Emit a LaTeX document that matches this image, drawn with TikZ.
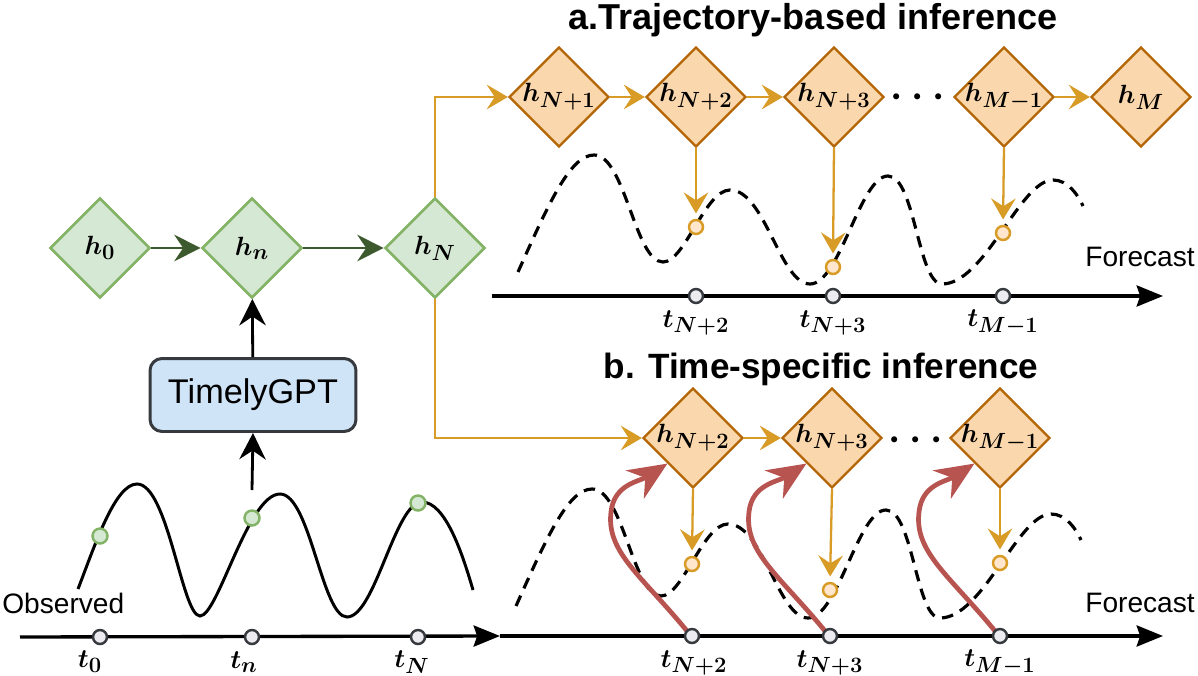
\RequirePackage{fix-cm}
\documentclass[tikz,border=0pt]{standalone}
\usepackage{amsmath}
\usepackage{fontspec}
\setmainfont{Liberation Sans}
\usetikzlibrary{shapes.geometric,arrows.meta,calc}
\DeclareMathSizes{15}{15}{12.5}{10}
\definecolor{gfill}{HTML}{D5E8D4}
\definecolor{gline}{HTML}{82B366}
\definecolor{garrow}{HTML}{3D5A2E}
\definecolor{ofill}{HTML}{FAD7AC}
\definecolor{oline}{HTML}{B46504}
\definecolor{oarrow}{HTML}{D79B26}
\definecolor{odotfill}{HTML}{FFE6CC}
\definecolor{rarrow}{HTML}{B85450}
\definecolor{bfill}{HTML}{CFE4F7}
\definecolor{darkline}{HTML}{36393D}
\definecolor{tdotfill}{HTML}{ECECF0}
\newcommand{\hlab}[1]{\makebox[0pt]{$\boldsymbol{h}_{\boldsymbol{#1}}$}}
\newcommand{\tlab}[1]{$\boldsymbol{t}_{\boldsymbol{#1}}$}
\newcommand{\threedots}{$\mathord{\boldsymbol{\cdot}}\mkern4mu\mathord{\boldsymbol{\cdot}}\mkern4mu\mathord{\boldsymbol{\cdot}}$}
\tikzset{
  gdia/.style={diamond, draw=gline, fill=gfill, line width=1.5pt, minimum width=2cm, minimum height=2cm, inner sep=0pt, font=\fontsize{15}{18}\selectfont},
  odia/.style={diamond, draw=oline, fill=ofill, line width=1.3pt, minimum width=2cm, minimum height=2cm, inner sep=0pt, font=\fontsize{15}{18}\selectfont},
  garr/.style={draw=garrow, line width=1.6pt, -{Stealth[length=15pt,width=15pt,inset=5pt]}},
  oarr/.style={draw=oarrow, line width=1.3pt, -{Stealth[length=12pt,width=14pt,inset=4.5pt]}},
  barr/.style={draw=black, line width=1.6pt, -{Stealth[length=15pt,width=15pt,inset=5pt]}},
  rarr/.style={draw=rarrow, line width=2.7pt, -{Stealth[length=22pt,width=19pt,inset=7pt]}},
  axisline/.style={draw=black, line width=1.9pt, -{Stealth[length=15pt,width=12pt,inset=2pt]}},
  tdot/.style={circle, draw=darkline, fill=tdotfill, line width=1.4pt, minimum size=0.28cm, inner sep=0pt},
  odot/.style={circle, draw=oarrow, fill=odotfill, line width=1.4pt, minimum size=0.28cm, inner sep=0pt},
  gdot/.style={circle, draw=gline, fill=gfill, line width=1.4pt, minimum size=0.3cm, inner sep=0pt},
  gptbox/.style={draw=darkline, fill=bfill, line width=1.7pt, rounded corners=0.24cm, minimum width=4.12cm, minimum height=1.46cm, font=\fontsize{19.5}{22}\selectfont},
  mathlab/.style={inner sep=0pt, font=\fontsize{15}{18}\selectfont},
  plainlab/.style={inner sep=0pt, font=\fontsize{16}{19}\selectfont},
  titlelab/.style={inner sep=0pt, font=\fontsize{20}{23}\selectfont\bfseries},
  dotslab/.style={inner sep=0pt, font=\fontsize{22}{24}\selectfont},
  dashcurve/.style={draw=black, line width=1.8pt, dash pattern=on 6.5pt off 4.5pt},
  solidcurve/.style={draw=black, line width=1.7pt}
}
\begin{document}
\begin{tikzpicture}[x=0.02cm,y=-0.02cm]
\useasboundingbox (0,0) rectangle (1198,676);

% ---------- titles ----------
\node[titlelab, anchor=base, font=\fontsize{20.5}{23}\selectfont\bfseries] (titA) at (813,30) {a.Trajectory-based inference};
\node[titlelab, anchor=base] (titB) at (821,378) {b. Time-specific inference};

% ---------- observed curve ----------
\draw[solidcurve] (78,589) .. controls (95,545) and (115,484) .. (137,484)
  .. controls (168,484) and (182,616) .. (200,616)
  .. controls (218,616) and (248,494) .. (280,494)
  .. controls (310,494) and (322,617) .. (347,617)
  .. controls (375,617) and (395,502) .. (422,502)
  .. controls (445,502) and (462,552) .. (473,590);

% ---------- forecast dashed curves ----------
\foreach \dx/\dy in {0/0, -2/334}{
\begin{scope}[shift={(\dx,\dy)}]
\draw[dashcurve] (518,272) .. controls (548,205) and (570,155) .. (594,155)
  .. controls (625,155) and (635,262) .. (663,262)
  .. controls (685,262) and (705,190) .. (730,190)
  .. controls (765,190) and (780,284) .. (810,284)
  .. controls (840,284) and (860,176) .. (888,176)
  .. controls (915,176) and (918,284) .. (942,284)
  .. controls (985,284) and (1020,180) .. (1053,180)
  .. controls (1068,180) and (1078,195) .. (1083,206);
\end{scope}
}

% ---------- axes ----------
\coordinate (ax0) at (20,637);
\coordinate (ax1) at (500,636);
\coordinate (ax2) at (1163,636);
\coordinate (ax3) at (492,296);
\coordinate (ax4) at (1163,296);
\draw[axisline] (ax0) -- (ax1);
\draw[axisline] (ax1) -- (ax2);
\draw[axisline] (ax3) -- (ax4);

% ---------- left part ----------
\node[gdia] (h0) at (100,248) {\hlab{0}};
\node[gdia] (hn) at (252,248) {\hlab{n}};
\node[gdia] (hN) at (435,248) {\hlab{N}};
\draw[garr] (h0) -- (hn);
\draw[garr] (hn) -- (hN);

\node[gptbox] (gpt) at (253,395) {TimelyGPT};
\coordinate (obs) at (252,490);
\draw[barr] (gpt) -- (hn);
\draw[barr] (obs) -- (gpt.south);

\node[gdot] (g1) at (100,536) {};
\node[gdot] (g2) at (252,518) {};
\node[gdot] (g3) at (418,503) {};

\node[plainlab, anchor=base west] (obsl) at (2,613) {Observed};

\node[tdot] (t0) at (100,637) {};
\node[tdot] (tn) at (252,637) {};
\node[tdot] (tN) at (418,637) {};
\node[mathlab] (lt0) at (90,662) {\tlab{0}};
\node[mathlab] (ltn) at (244,662) {\tlab{n}};
\node[mathlab] (ltN) at (412,662) {\tlab{N}};

% ---------- panel a ----------
\node[odia] (ha1) at (559,97) {\hlab{N+1}};
\node[odia] (ha2) at (696,97) {\hlab{N+2}};
\node[odia] (ha3) at (834,97) {\hlab{N+3}};
\node[odia] (ha4) at (1004,97) {\hlab{M-1}};
\node[odia] (ha5) at (1141,97) {\hlab{M}};
\node[dotslab] (dda) at (918,97) {\threedots};
\draw[oarr] (hN.north) |- (ha1.west);
\draw[oarr] (ha1) -- (ha2);
\draw[oarr] (ha2) -- (ha3);
\draw[oarr] (ha4) -- (ha5);

\node[odot] (oa1) at (696,227) {};
\node[odot] (oa2) at (833,267) {};
\node[odot] (oa3) at (1003,233) {};
\draw[oarr, shorten >=3pt] (ha2.south) -- (oa1.north);
\draw[oarr, shorten >=3pt] (ha3.south) -- (oa2.north);
\draw[oarr, shorten >=3pt] (ha4.south) -- (oa3.north);

\node[tdot] (ta1) at (696,296) {};
\node[tdot] (ta2) at (833,296) {};
\node[tdot] (ta3) at (1003,296) {};
\node[mathlab] (lta1) at (696,323) {\tlab{N+2}};
\node[mathlab] (lta2) at (833,323) {\tlab{N+3}};
\node[mathlab] (lta3) at (1003,323) {\tlab{M-1}};
\node[plainlab, anchor=base west] (fca) at (1085,266) {Forecast};

% ---------- panel b ----------
\node[odia] (hb2) at (693,438) {\hlab{N+2}};
\node[odia] (hb3) at (832,438) {\hlab{N+3}};
\node[odia] (hb4) at (1000,438) {\hlab{M-1}};
\node[dotslab] (ddb) at (916,440) {\threedots};
\draw[oarr] (hN.south) |- (hb2.west);
\draw[oarr] (hb2) -- (hb3);

\node[odot] (ob1) at (692,564) {};
\node[odot] (ob2) at (830,590) {};
\node[odot] (ob3) at (1000,563) {};
\draw[oarr, shorten >=3pt] (hb2.south) -- (ob1.north);
\draw[oarr, shorten >=3pt] (hb3.south) -- (ob2.north);
\draw[oarr, shorten >=3pt] (hb4.south) -- (ob3.north);

\coordinate (cb1) at (692,636);
\coordinate (cb2) at (830,636);
\coordinate (cb3) at (1000,636);
\draw[rarr] ($(cb1)+(-5,-5)$) .. controls +(-45,-55) and +(-5,40) .. ($(cb1)+(-81,-124)$)
   .. controls +(3,-28) and +(-28,18) .. (hb2.south west);
\draw[rarr] ($(cb2)+(-5,-5)$) .. controls +(-45,-55) and +(-5,40) .. ($(cb2)+(-81,-124)$)
   .. controls +(3,-28) and +(-28,18) .. (hb3.south west);
\draw[rarr] ($(cb3)+(-5,-5)$) .. controls +(-45,-55) and +(-5,40) .. ($(cb3)+(-81,-124)$)
   .. controls +(3,-28) and +(-28,18) .. (hb4.south west);
\node[tdot] (tb1) at (cb1) {};
\node[tdot] (tb2) at (cb2) {};
\node[tdot] (tb3) at (cb3) {};

\node[mathlab] (ltb1) at (694,663) {\tlab{N+2}};
\node[mathlab] (ltb2) at (830,663) {\tlab{N+3}};
\node[mathlab] (ltb3) at (1000,663) {\tlab{M-1}};
\node[plainlab, anchor=base west] (fcb) at (1085,612) {Forecast};
\end{tikzpicture}
\end{document}
